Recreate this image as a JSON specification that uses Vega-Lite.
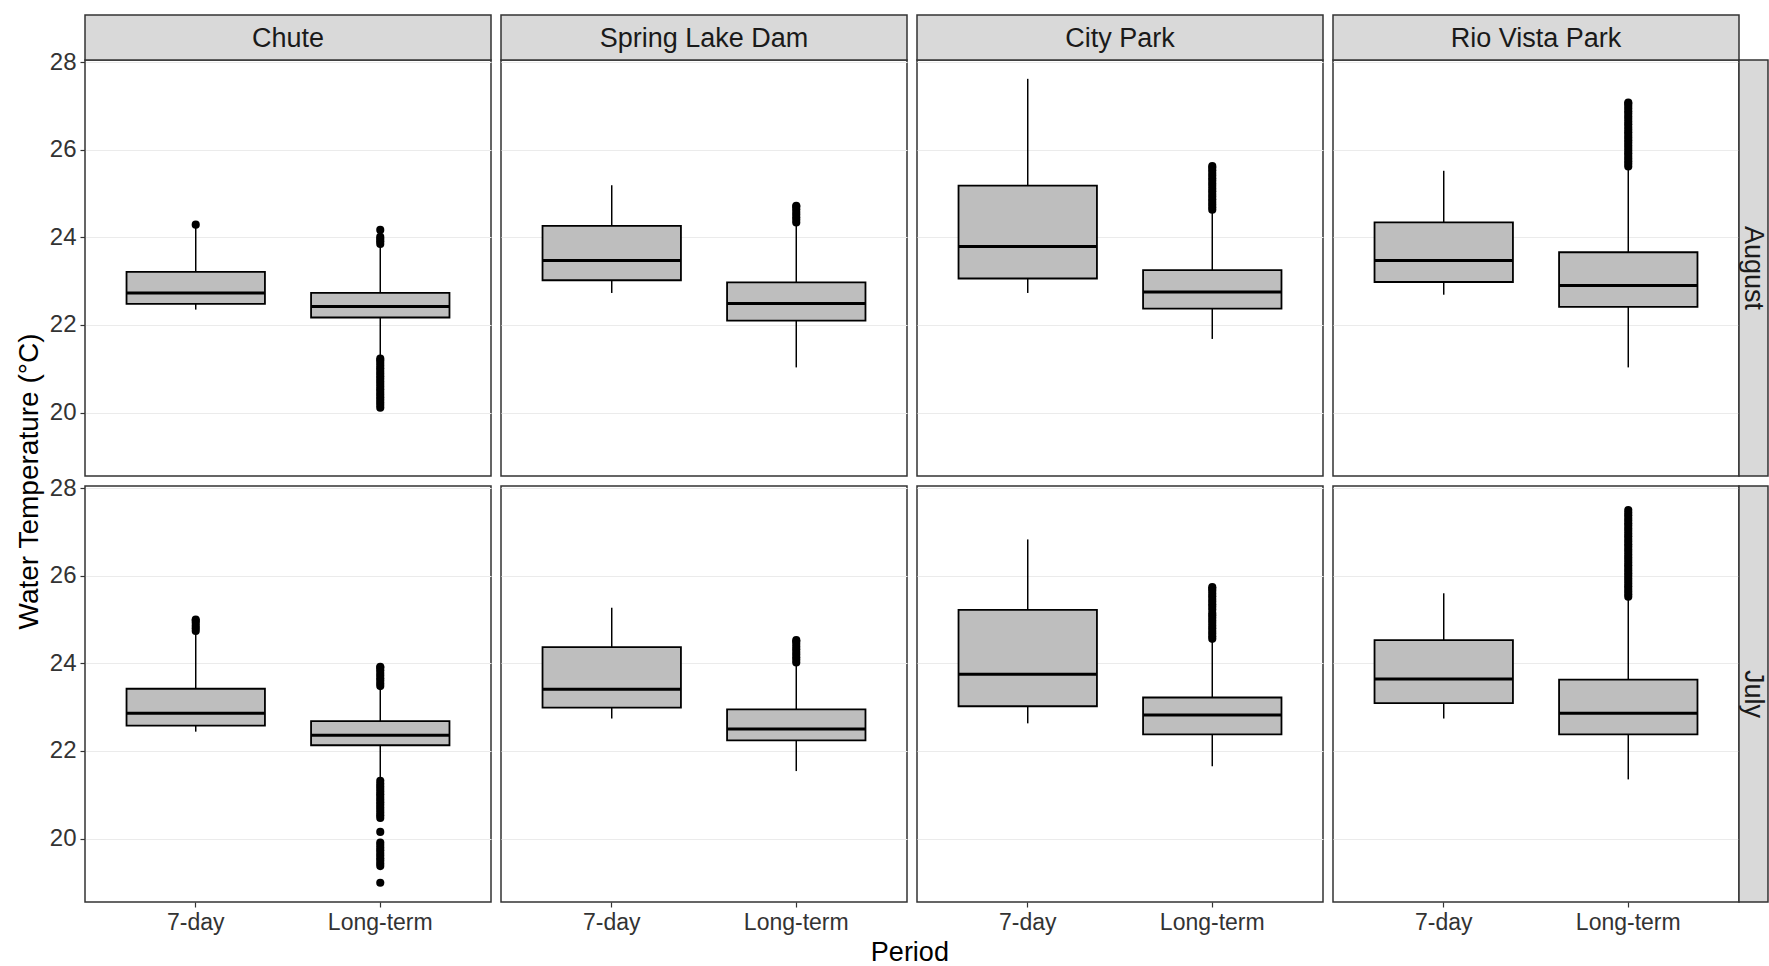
{
  "$schema": "https://vega.github.io/schema/vega-lite/v6.json",
  "padding": {"left": 14, "top": 13, "right": 0, "bottom": 2},
  "background": "white",
  "config": {
    "font": "Liberation Sans",
    "view": {"stroke": "#333333", "strokeWidth": 1.5},
    "axis": {"domain": false, "tickColor": "#333333", "tickSize": 5, "tickWidth": 1.2, "labelColor": "#333333", "labelFont": "Liberation Sans", "gridColor": "#EBEBEB", "gridWidth": 1.2}
  },
  "title": {"text": "Period", "orient": "bottom", "fontSize": 27, "fontWeight": "normal", "color": "#000000", "font": "Liberation Sans", "offset": 5, "anchor": "middle", "dx": 18},
  "datasets": {
    "d": [
      {"site": "Chute", "month": "August", "period": "7-day", "lower": 22.35, "q1": 22.48, "median": 22.73, "q3": 23.21, "upper": 24.22},
      {"site": "Chute", "month": "August", "period": "Long-term", "lower": 21.28, "q1": 22.17, "median": 22.42, "q3": 22.73, "upper": 23.85},
      {"site": "Spring Lake Dam", "month": "August", "period": "7-day", "lower": 22.73, "q1": 23.02, "median": 23.47, "q3": 24.26, "upper": 25.19},
      {"site": "Spring Lake Dam", "month": "August", "period": "Long-term", "lower": 21.03, "q1": 22.10, "median": 22.49, "q3": 22.97, "upper": 24.34},
      {"site": "City Park", "month": "August", "period": "7-day", "lower": 22.73, "q1": 23.06, "median": 23.79, "q3": 25.18, "upper": 27.62},
      {"site": "City Park", "month": "August", "period": "Long-term", "lower": 21.68, "q1": 22.37, "median": 22.75, "q3": 23.25, "upper": 24.63},
      {"site": "Rio Vista Park", "month": "August", "period": "7-day", "lower": 22.69, "q1": 22.98, "median": 23.47, "q3": 24.34, "upper": 25.52},
      {"site": "Rio Vista Park", "month": "August", "period": "Long-term", "lower": 21.03, "q1": 22.41, "median": 22.90, "q3": 23.66, "upper": 25.62},
      {"site": "Chute", "month": "July", "period": "7-day", "lower": 22.44, "q1": 22.58, "median": 22.86, "q3": 23.42, "upper": 24.74},
      {"site": "Chute", "month": "July", "period": "Long-term", "lower": 21.32, "q1": 22.13, "median": 22.36, "q3": 22.68, "upper": 23.48},
      {"site": "Spring Lake Dam", "month": "July", "period": "7-day", "lower": 22.74, "q1": 22.99, "median": 23.41, "q3": 24.37, "upper": 25.27},
      {"site": "Spring Lake Dam", "month": "July", "period": "Long-term", "lower": 21.54, "q1": 22.24, "median": 22.50, "q3": 22.95, "upper": 24.02},
      {"site": "City Park", "month": "July", "period": "7-day", "lower": 22.63, "q1": 23.02, "median": 23.75, "q3": 25.22, "upper": 26.83},
      {"site": "City Park", "month": "July", "period": "Long-term", "lower": 21.65, "q1": 22.38, "median": 22.82, "q3": 23.22, "upper": 24.56},
      {"site": "Rio Vista Park", "month": "July", "period": "7-day", "lower": 22.74, "q1": 23.09, "median": 23.64, "q3": 24.53, "upper": 25.60},
      {"site": "Rio Vista Park", "month": "July", "period": "Long-term", "lower": 21.35, "q1": 22.38, "median": 22.86, "q3": 23.63, "upper": 25.52},
      {"site": "Chute", "month": "August", "period": "7-day", "temp": 24.29},
      {"site": "Chute", "month": "August", "period": "Long-term", "temp": 23.85},
      {"site": "Chute", "month": "August", "period": "Long-term", "temp": 23.91},
      {"site": "Chute", "month": "August", "period": "Long-term", "temp": 23.96},
      {"site": "Chute", "month": "August", "period": "Long-term", "temp": 24.01},
      {"site": "Chute", "month": "August", "period": "Long-term", "temp": 24.17},
      {"site": "Chute", "month": "August", "period": "Long-term", "temp": 20.11},
      {"site": "Chute", "month": "August", "period": "Long-term", "temp": 20.17},
      {"site": "Chute", "month": "August", "period": "Long-term", "temp": 20.23},
      {"site": "Chute", "month": "August", "period": "Long-term", "temp": 20.29},
      {"site": "Chute", "month": "August", "period": "Long-term", "temp": 20.35},
      {"site": "Chute", "month": "August", "period": "Long-term", "temp": 20.41},
      {"site": "Chute", "month": "August", "period": "Long-term", "temp": 20.47},
      {"site": "Chute", "month": "August", "period": "Long-term", "temp": 20.53},
      {"site": "Chute", "month": "August", "period": "Long-term", "temp": 20.59},
      {"site": "Chute", "month": "August", "period": "Long-term", "temp": 20.65},
      {"site": "Chute", "month": "August", "period": "Long-term", "temp": 20.71},
      {"site": "Chute", "month": "August", "period": "Long-term", "temp": 20.77},
      {"site": "Chute", "month": "August", "period": "Long-term", "temp": 20.83},
      {"site": "Chute", "month": "August", "period": "Long-term", "temp": 20.89},
      {"site": "Chute", "month": "August", "period": "Long-term", "temp": 20.95},
      {"site": "Chute", "month": "August", "period": "Long-term", "temp": 21.01},
      {"site": "Chute", "month": "August", "period": "Long-term", "temp": 21.07},
      {"site": "Chute", "month": "August", "period": "Long-term", "temp": 21.13},
      {"site": "Chute", "month": "August", "period": "Long-term", "temp": 21.19},
      {"site": "Chute", "month": "August", "period": "Long-term", "temp": 21.23},
      {"site": "Spring Lake Dam", "month": "August", "period": "Long-term", "temp": 24.34},
      {"site": "Spring Lake Dam", "month": "August", "period": "Long-term", "temp": 24.40},
      {"site": "Spring Lake Dam", "month": "August", "period": "Long-term", "temp": 24.46},
      {"site": "Spring Lake Dam", "month": "August", "period": "Long-term", "temp": 24.52},
      {"site": "Spring Lake Dam", "month": "August", "period": "Long-term", "temp": 24.58},
      {"site": "Spring Lake Dam", "month": "August", "period": "Long-term", "temp": 24.64},
      {"site": "Spring Lake Dam", "month": "August", "period": "Long-term", "temp": 24.70},
      {"site": "Spring Lake Dam", "month": "August", "period": "Long-term", "temp": 24.72},
      {"site": "City Park", "month": "August", "period": "Long-term", "temp": 24.63},
      {"site": "City Park", "month": "August", "period": "Long-term", "temp": 24.69},
      {"site": "City Park", "month": "August", "period": "Long-term", "temp": 24.75},
      {"site": "City Park", "month": "August", "period": "Long-term", "temp": 24.81},
      {"site": "City Park", "month": "August", "period": "Long-term", "temp": 24.87},
      {"site": "City Park", "month": "August", "period": "Long-term", "temp": 24.93},
      {"site": "City Park", "month": "August", "period": "Long-term", "temp": 24.99},
      {"site": "City Park", "month": "August", "period": "Long-term", "temp": 25.05},
      {"site": "City Park", "month": "August", "period": "Long-term", "temp": 25.11},
      {"site": "City Park", "month": "August", "period": "Long-term", "temp": 25.17},
      {"site": "City Park", "month": "August", "period": "Long-term", "temp": 25.23},
      {"site": "City Park", "month": "August", "period": "Long-term", "temp": 25.29},
      {"site": "City Park", "month": "August", "period": "Long-term", "temp": 25.35},
      {"site": "City Park", "month": "August", "period": "Long-term", "temp": 25.41},
      {"site": "City Park", "month": "August", "period": "Long-term", "temp": 25.47},
      {"site": "City Park", "month": "August", "period": "Long-term", "temp": 25.53},
      {"site": "City Park", "month": "August", "period": "Long-term", "temp": 25.59},
      {"site": "City Park", "month": "August", "period": "Long-term", "temp": 25.63},
      {"site": "Rio Vista Park", "month": "August", "period": "Long-term", "temp": 25.62},
      {"site": "Rio Vista Park", "month": "August", "period": "Long-term", "temp": 25.68},
      {"site": "Rio Vista Park", "month": "August", "period": "Long-term", "temp": 25.74},
      {"site": "Rio Vista Park", "month": "August", "period": "Long-term", "temp": 25.80},
      {"site": "Rio Vista Park", "month": "August", "period": "Long-term", "temp": 25.86},
      {"site": "Rio Vista Park", "month": "August", "period": "Long-term", "temp": 25.92},
      {"site": "Rio Vista Park", "month": "August", "period": "Long-term", "temp": 25.98},
      {"site": "Rio Vista Park", "month": "August", "period": "Long-term", "temp": 26.04},
      {"site": "Rio Vista Park", "month": "August", "period": "Long-term", "temp": 26.10},
      {"site": "Rio Vista Park", "month": "August", "period": "Long-term", "temp": 26.16},
      {"site": "Rio Vista Park", "month": "August", "period": "Long-term", "temp": 26.22},
      {"site": "Rio Vista Park", "month": "August", "period": "Long-term", "temp": 26.28},
      {"site": "Rio Vista Park", "month": "August", "period": "Long-term", "temp": 26.34},
      {"site": "Rio Vista Park", "month": "August", "period": "Long-term", "temp": 26.40},
      {"site": "Rio Vista Park", "month": "August", "period": "Long-term", "temp": 26.46},
      {"site": "Rio Vista Park", "month": "August", "period": "Long-term", "temp": 26.52},
      {"site": "Rio Vista Park", "month": "August", "period": "Long-term", "temp": 26.58},
      {"site": "Rio Vista Park", "month": "August", "period": "Long-term", "temp": 26.64},
      {"site": "Rio Vista Park", "month": "August", "period": "Long-term", "temp": 26.70},
      {"site": "Rio Vista Park", "month": "August", "period": "Long-term", "temp": 26.76},
      {"site": "Rio Vista Park", "month": "August", "period": "Long-term", "temp": 26.82},
      {"site": "Rio Vista Park", "month": "August", "period": "Long-term", "temp": 26.88},
      {"site": "Rio Vista Park", "month": "August", "period": "Long-term", "temp": 26.94},
      {"site": "Rio Vista Park", "month": "August", "period": "Long-term", "temp": 27.00},
      {"site": "Rio Vista Park", "month": "August", "period": "Long-term", "temp": 27.05},
      {"site": "Rio Vista Park", "month": "August", "period": "Long-term", "temp": 27.08},
      {"site": "Chute", "month": "July", "period": "7-day", "temp": 24.74},
      {"site": "Chute", "month": "July", "period": "7-day", "temp": 24.80},
      {"site": "Chute", "month": "July", "period": "7-day", "temp": 24.86},
      {"site": "Chute", "month": "July", "period": "7-day", "temp": 24.92},
      {"site": "Chute", "month": "July", "period": "7-day", "temp": 24.97},
      {"site": "Chute", "month": "July", "period": "7-day", "temp": 25.00},
      {"site": "Chute", "month": "July", "period": "Long-term", "temp": 23.48},
      {"site": "Chute", "month": "July", "period": "Long-term", "temp": 23.54},
      {"site": "Chute", "month": "July", "period": "Long-term", "temp": 23.60},
      {"site": "Chute", "month": "July", "period": "Long-term", "temp": 23.66},
      {"site": "Chute", "month": "July", "period": "Long-term", "temp": 23.72},
      {"site": "Chute", "month": "July", "period": "Long-term", "temp": 23.78},
      {"site": "Chute", "month": "July", "period": "Long-term", "temp": 23.84},
      {"site": "Chute", "month": "July", "period": "Long-term", "temp": 23.90},
      {"site": "Chute", "month": "July", "period": "Long-term", "temp": 23.92},
      {"site": "Chute", "month": "July", "period": "Long-term", "temp": 20.47},
      {"site": "Chute", "month": "July", "period": "Long-term", "temp": 20.53},
      {"site": "Chute", "month": "July", "period": "Long-term", "temp": 20.59},
      {"site": "Chute", "month": "July", "period": "Long-term", "temp": 20.65},
      {"site": "Chute", "month": "July", "period": "Long-term", "temp": 20.71},
      {"site": "Chute", "month": "July", "period": "Long-term", "temp": 20.77},
      {"site": "Chute", "month": "July", "period": "Long-term", "temp": 20.83},
      {"site": "Chute", "month": "July", "period": "Long-term", "temp": 20.89},
      {"site": "Chute", "month": "July", "period": "Long-term", "temp": 20.95},
      {"site": "Chute", "month": "July", "period": "Long-term", "temp": 21.01},
      {"site": "Chute", "month": "July", "period": "Long-term", "temp": 21.07},
      {"site": "Chute", "month": "July", "period": "Long-term", "temp": 21.13},
      {"site": "Chute", "month": "July", "period": "Long-term", "temp": 21.19},
      {"site": "Chute", "month": "July", "period": "Long-term", "temp": 21.25},
      {"site": "Chute", "month": "July", "period": "Long-term", "temp": 21.32},
      {"site": "Chute", "month": "July", "period": "Long-term", "temp": 20.15},
      {"site": "Chute", "month": "July", "period": "Long-term", "temp": 19.37},
      {"site": "Chute", "month": "July", "period": "Long-term", "temp": 19.43},
      {"site": "Chute", "month": "July", "period": "Long-term", "temp": 19.49},
      {"site": "Chute", "month": "July", "period": "Long-term", "temp": 19.55},
      {"site": "Chute", "month": "July", "period": "Long-term", "temp": 19.61},
      {"site": "Chute", "month": "July", "period": "Long-term", "temp": 19.67},
      {"site": "Chute", "month": "July", "period": "Long-term", "temp": 19.73},
      {"site": "Chute", "month": "July", "period": "Long-term", "temp": 19.79},
      {"site": "Chute", "month": "July", "period": "Long-term", "temp": 19.85},
      {"site": "Chute", "month": "July", "period": "Long-term", "temp": 19.91},
      {"site": "Chute", "month": "July", "period": "Long-term", "temp": 18.99},
      {"site": "Spring Lake Dam", "month": "July", "period": "Long-term", "temp": 24.02},
      {"site": "Spring Lake Dam", "month": "July", "period": "Long-term", "temp": 24.08},
      {"site": "Spring Lake Dam", "month": "July", "period": "Long-term", "temp": 24.14},
      {"site": "Spring Lake Dam", "month": "July", "period": "Long-term", "temp": 24.20},
      {"site": "Spring Lake Dam", "month": "July", "period": "Long-term", "temp": 24.26},
      {"site": "Spring Lake Dam", "month": "July", "period": "Long-term", "temp": 24.32},
      {"site": "Spring Lake Dam", "month": "July", "period": "Long-term", "temp": 24.38},
      {"site": "Spring Lake Dam", "month": "July", "period": "Long-term", "temp": 24.44},
      {"site": "Spring Lake Dam", "month": "July", "period": "Long-term", "temp": 24.50},
      {"site": "Spring Lake Dam", "month": "July", "period": "Long-term", "temp": 24.53},
      {"site": "City Park", "month": "July", "period": "Long-term", "temp": 24.56},
      {"site": "City Park", "month": "July", "period": "Long-term", "temp": 24.62},
      {"site": "City Park", "month": "July", "period": "Long-term", "temp": 24.68},
      {"site": "City Park", "month": "July", "period": "Long-term", "temp": 24.74},
      {"site": "City Park", "month": "July", "period": "Long-term", "temp": 24.80},
      {"site": "City Park", "month": "July", "period": "Long-term", "temp": 24.86},
      {"site": "City Park", "month": "July", "period": "Long-term", "temp": 24.92},
      {"site": "City Park", "month": "July", "period": "Long-term", "temp": 24.98},
      {"site": "City Park", "month": "July", "period": "Long-term", "temp": 25.04},
      {"site": "City Park", "month": "July", "period": "Long-term", "temp": 25.10},
      {"site": "City Park", "month": "July", "period": "Long-term", "temp": 25.15},
      {"site": "City Park", "month": "July", "period": "Long-term", "temp": 25.23},
      {"site": "City Park", "month": "July", "period": "Long-term", "temp": 25.29},
      {"site": "City Park", "month": "July", "period": "Long-term", "temp": 25.35},
      {"site": "City Park", "month": "July", "period": "Long-term", "temp": 25.41},
      {"site": "City Park", "month": "July", "period": "Long-term", "temp": 25.47},
      {"site": "City Park", "month": "July", "period": "Long-term", "temp": 25.53},
      {"site": "City Park", "month": "July", "period": "Long-term", "temp": 25.59},
      {"site": "City Park", "month": "July", "period": "Long-term", "temp": 25.65},
      {"site": "City Park", "month": "July", "period": "Long-term", "temp": 25.70},
      {"site": "City Park", "month": "July", "period": "Long-term", "temp": 25.74},
      {"site": "Rio Vista Park", "month": "July", "period": "Long-term", "temp": 25.52},
      {"site": "Rio Vista Park", "month": "July", "period": "Long-term", "temp": 25.58},
      {"site": "Rio Vista Park", "month": "July", "period": "Long-term", "temp": 25.64},
      {"site": "Rio Vista Park", "month": "July", "period": "Long-term", "temp": 25.70},
      {"site": "Rio Vista Park", "month": "July", "period": "Long-term", "temp": 25.76},
      {"site": "Rio Vista Park", "month": "July", "period": "Long-term", "temp": 25.82},
      {"site": "Rio Vista Park", "month": "July", "period": "Long-term", "temp": 25.88},
      {"site": "Rio Vista Park", "month": "July", "period": "Long-term", "temp": 25.94},
      {"site": "Rio Vista Park", "month": "July", "period": "Long-term", "temp": 26.00},
      {"site": "Rio Vista Park", "month": "July", "period": "Long-term", "temp": 26.06},
      {"site": "Rio Vista Park", "month": "July", "period": "Long-term", "temp": 26.12},
      {"site": "Rio Vista Park", "month": "July", "period": "Long-term", "temp": 26.18},
      {"site": "Rio Vista Park", "month": "July", "period": "Long-term", "temp": 26.24},
      {"site": "Rio Vista Park", "month": "July", "period": "Long-term", "temp": 26.30},
      {"site": "Rio Vista Park", "month": "July", "period": "Long-term", "temp": 26.36},
      {"site": "Rio Vista Park", "month": "July", "period": "Long-term", "temp": 26.42},
      {"site": "Rio Vista Park", "month": "July", "period": "Long-term", "temp": 26.48},
      {"site": "Rio Vista Park", "month": "July", "period": "Long-term", "temp": 26.54},
      {"site": "Rio Vista Park", "month": "July", "period": "Long-term", "temp": 26.60},
      {"site": "Rio Vista Park", "month": "July", "period": "Long-term", "temp": 26.66},
      {"site": "Rio Vista Park", "month": "July", "period": "Long-term", "temp": 26.72},
      {"site": "Rio Vista Park", "month": "July", "period": "Long-term", "temp": 26.78},
      {"site": "Rio Vista Park", "month": "July", "period": "Long-term", "temp": 26.84},
      {"site": "Rio Vista Park", "month": "July", "period": "Long-term", "temp": 26.90},
      {"site": "Rio Vista Park", "month": "July", "period": "Long-term", "temp": 26.96},
      {"site": "Rio Vista Park", "month": "July", "period": "Long-term", "temp": 27.02},
      {"site": "Rio Vista Park", "month": "July", "period": "Long-term", "temp": 27.08},
      {"site": "Rio Vista Park", "month": "July", "period": "Long-term", "temp": 27.14},
      {"site": "Rio Vista Park", "month": "July", "period": "Long-term", "temp": 27.20},
      {"site": "Rio Vista Park", "month": "July", "period": "Long-term", "temp": 27.26},
      {"site": "Rio Vista Park", "month": "July", "period": "Long-term", "temp": 27.32},
      {"site": "Rio Vista Park", "month": "July", "period": "Long-term", "temp": 27.38},
      {"site": "Rio Vista Park", "month": "July", "period": "Long-term", "temp": 27.44},
      {"site": "Rio Vista Park", "month": "July", "period": "Long-term", "temp": 27.50}
    ]
  },
  "columns": 4,
  "spacing": {"row": 10, "column": 10},
  "bounds": "flush",
  "concat": [
    {
      "data": {"name": "d"}, "width": 406, "height": 416,
      "transform": [{"filter": "datum.site === 'Chute' && datum.month === 'August'"}],
      "layer": [
        {"transform": [{"filter": "isValid(datum.median) && datum.period === '7-day'"}], "mark": {"type": "rect", "fill": "#D9D9D9", "stroke": "#333333", "strokeWidth": 1.5}, "encoding": {"y": {"datum": 28.05, "type": "quantitative", "scale": {"domain": [18.55, 28.05], "nice": false, "zero": false}}, "y2": {"datum": 29.078}}},
        {"transform": [{"filter": "isValid(datum.median) && datum.period === '7-day'"}], "mark": {"type": "text", "fontSize": 27, "color": "#1A1A1A", "baseline": "middle", "align": "center", "dy": 2}, "encoding": {"y": {"datum": 28.564, "type": "quantitative", "scale": {"domain": [18.55, 28.05], "nice": false, "zero": false}}, "text": {"field": "site", "type": "nominal"}}},
        {"transform": [{"filter": "isValid(datum.median)"}], "mark": {"type": "rule", "color": "#000000", "strokeWidth": 1.5}, "encoding": {"x": {"field": "period", "type": "nominal", "scale": {"paddingInner": 0.25, "paddingOuter": 0.225}, "axis": {"title": null, "labels": false, "ticks": false, "grid": false}}, "y": {"field": "lower", "type": "quantitative", "scale": {"domain": [18.55, 28.05], "nice": false, "zero": false}, "axis": {"title": "Water Temperature (°C)", "titleFontSize": 28, "titleFontWeight": "normal", "titleColor": "#000000", "titleFont": "Liberation Sans", "titleAngle": -90, "titleAlign": "center", "titleBaseline": "middle", "titleX": -56, "titleY": 421, "values": [20, 22, 24, 26, 28], "grid": true, "labelFontSize": 24, "labelPadding": 4}}, "y2": {"field": "upper"}}},
        {"transform": [{"filter": "isValid(datum.median)"}], "mark": {"type": "bar", "fill": "#BEBEBE", "stroke": "#000000", "strokeWidth": 1.8}, "encoding": {"x": {"field": "period", "type": "nominal", "scale": {"paddingInner": 0.25, "paddingOuter": 0.225}}, "y": {"field": "q1", "type": "quantitative", "scale": {"domain": [18.55, 28.05], "nice": false, "zero": false}}, "y2": {"field": "q3"}}},
        {"transform": [{"filter": "isValid(datum.median)"}], "mark": {"type": "tick", "color": "#000000", "thickness": 3, "size": 138.4, "opacity": 1}, "encoding": {"x": {"field": "period", "type": "nominal", "scale": {"paddingInner": 0.25, "paddingOuter": 0.225}}, "y": {"field": "median", "type": "quantitative", "scale": {"domain": [18.55, 28.05], "nice": false, "zero": false}}}},
        {"transform": [{"filter": "isValid(datum.temp)"}], "mark": {"type": "point", "filled": true, "color": "#000000", "opacity": 1, "size": 66}, "encoding": {"x": {"field": "period", "type": "nominal", "scale": {"paddingInner": 0.25, "paddingOuter": 0.225}}, "y": {"field": "temp", "type": "quantitative", "scale": {"domain": [18.55, 28.05], "nice": false, "zero": false}}}}
      ]
    },
    {
      "data": {"name": "d"}, "width": 406, "height": 416,
      "transform": [{"filter": "datum.site === 'Spring Lake Dam' && datum.month === 'August'"}],
      "layer": [
        {"transform": [{"filter": "isValid(datum.median) && datum.period === '7-day'"}], "mark": {"type": "rect", "fill": "#D9D9D9", "stroke": "#333333", "strokeWidth": 1.5}, "encoding": {"y": {"datum": 28.05, "type": "quantitative", "scale": {"domain": [18.55, 28.05], "nice": false, "zero": false}}, "y2": {"datum": 29.078}}},
        {"transform": [{"filter": "isValid(datum.median) && datum.period === '7-day'"}], "mark": {"type": "text", "fontSize": 27, "color": "#1A1A1A", "baseline": "middle", "align": "center", "dy": 2}, "encoding": {"y": {"datum": 28.564, "type": "quantitative", "scale": {"domain": [18.55, 28.05], "nice": false, "zero": false}}, "text": {"field": "site", "type": "nominal"}}},
        {"transform": [{"filter": "isValid(datum.median)"}], "mark": {"type": "rule", "color": "#000000", "strokeWidth": 1.5}, "encoding": {"x": {"field": "period", "type": "nominal", "scale": {"paddingInner": 0.25, "paddingOuter": 0.225}, "axis": {"title": null, "labels": false, "ticks": false, "grid": false}}, "y": {"field": "lower", "type": "quantitative", "scale": {"domain": [18.55, 28.05], "nice": false, "zero": false}, "axis": {"title": null, "values": [20, 22, 24, 26, 28], "grid": true, "labels": false, "ticks": false}}, "y2": {"field": "upper"}}},
        {"transform": [{"filter": "isValid(datum.median)"}], "mark": {"type": "bar", "fill": "#BEBEBE", "stroke": "#000000", "strokeWidth": 1.8}, "encoding": {"x": {"field": "period", "type": "nominal", "scale": {"paddingInner": 0.25, "paddingOuter": 0.225}}, "y": {"field": "q1", "type": "quantitative", "scale": {"domain": [18.55, 28.05], "nice": false, "zero": false}}, "y2": {"field": "q3"}}},
        {"transform": [{"filter": "isValid(datum.median)"}], "mark": {"type": "tick", "color": "#000000", "thickness": 3, "size": 138.4, "opacity": 1}, "encoding": {"x": {"field": "period", "type": "nominal", "scale": {"paddingInner": 0.25, "paddingOuter": 0.225}}, "y": {"field": "median", "type": "quantitative", "scale": {"domain": [18.55, 28.05], "nice": false, "zero": false}}}},
        {"transform": [{"filter": "isValid(datum.temp)"}], "mark": {"type": "point", "filled": true, "color": "#000000", "opacity": 1, "size": 66}, "encoding": {"x": {"field": "period", "type": "nominal", "scale": {"paddingInner": 0.25, "paddingOuter": 0.225}}, "y": {"field": "temp", "type": "quantitative", "scale": {"domain": [18.55, 28.05], "nice": false, "zero": false}}}}
      ]
    },
    {
      "data": {"name": "d"}, "width": 406, "height": 416,
      "transform": [{"filter": "datum.site === 'City Park' && datum.month === 'August'"}],
      "layer": [
        {"transform": [{"filter": "isValid(datum.median) && datum.period === '7-day'"}], "mark": {"type": "rect", "fill": "#D9D9D9", "stroke": "#333333", "strokeWidth": 1.5}, "encoding": {"y": {"datum": 28.05, "type": "quantitative", "scale": {"domain": [18.55, 28.05], "nice": false, "zero": false}}, "y2": {"datum": 29.078}}},
        {"transform": [{"filter": "isValid(datum.median) && datum.period === '7-day'"}], "mark": {"type": "text", "fontSize": 27, "color": "#1A1A1A", "baseline": "middle", "align": "center", "dy": 2}, "encoding": {"y": {"datum": 28.564, "type": "quantitative", "scale": {"domain": [18.55, 28.05], "nice": false, "zero": false}}, "text": {"field": "site", "type": "nominal"}}},
        {"transform": [{"filter": "isValid(datum.median)"}], "mark": {"type": "rule", "color": "#000000", "strokeWidth": 1.5}, "encoding": {"x": {"field": "period", "type": "nominal", "scale": {"paddingInner": 0.25, "paddingOuter": 0.225}, "axis": {"title": null, "labels": false, "ticks": false, "grid": false}}, "y": {"field": "lower", "type": "quantitative", "scale": {"domain": [18.55, 28.05], "nice": false, "zero": false}, "axis": {"title": null, "values": [20, 22, 24, 26, 28], "grid": true, "labels": false, "ticks": false}}, "y2": {"field": "upper"}}},
        {"transform": [{"filter": "isValid(datum.median)"}], "mark": {"type": "bar", "fill": "#BEBEBE", "stroke": "#000000", "strokeWidth": 1.8}, "encoding": {"x": {"field": "period", "type": "nominal", "scale": {"paddingInner": 0.25, "paddingOuter": 0.225}}, "y": {"field": "q1", "type": "quantitative", "scale": {"domain": [18.55, 28.05], "nice": false, "zero": false}}, "y2": {"field": "q3"}}},
        {"transform": [{"filter": "isValid(datum.median)"}], "mark": {"type": "tick", "color": "#000000", "thickness": 3, "size": 138.4, "opacity": 1}, "encoding": {"x": {"field": "period", "type": "nominal", "scale": {"paddingInner": 0.25, "paddingOuter": 0.225}}, "y": {"field": "median", "type": "quantitative", "scale": {"domain": [18.55, 28.05], "nice": false, "zero": false}}}},
        {"transform": [{"filter": "isValid(datum.temp)"}], "mark": {"type": "point", "filled": true, "color": "#000000", "opacity": 1, "size": 66}, "encoding": {"x": {"field": "period", "type": "nominal", "scale": {"paddingInner": 0.25, "paddingOuter": 0.225}}, "y": {"field": "temp", "type": "quantitative", "scale": {"domain": [18.55, 28.05], "nice": false, "zero": false}}}}
      ]
    },
    {
      "data": {"name": "d"}, "width": 406, "height": 416,
      "transform": [{"filter": "datum.site === 'Rio Vista Park' && datum.month === 'August'"}],
      "layer": [
        {
          "layer": [
            {"transform": [{"filter": "isValid(datum.median) && datum.period === '7-day'"}], "mark": {"type": "rect", "fill": "#D9D9D9", "stroke": "#333333", "strokeWidth": 1.5}, "encoding": {"y": {"datum": 28.05, "type": "quantitative", "scale": {"domain": [18.55, 28.05], "nice": false, "zero": false}}, "y2": {"datum": 29.078}}},
            {"transform": [{"filter": "isValid(datum.median) && datum.period === '7-day'"}], "mark": {"type": "text", "fontSize": 27, "color": "#1A1A1A", "baseline": "middle", "align": "center", "dy": 2}, "encoding": {"y": {"datum": 28.564, "type": "quantitative", "scale": {"domain": [18.55, 28.05], "nice": false, "zero": false}}, "text": {"field": "site", "type": "nominal"}}},
            {"transform": [{"filter": "isValid(datum.median)"}], "mark": {"type": "rule", "color": "#000000", "strokeWidth": 1.5}, "encoding": {"x": {"field": "period", "type": "nominal", "scale": {"paddingInner": 0.25, "paddingOuter": 0.225}, "axis": {"title": null, "labels": false, "ticks": false, "grid": false}}, "y": {"field": "lower", "type": "quantitative", "scale": {"domain": [18.55, 28.05], "nice": false, "zero": false}, "axis": {"title": null, "values": [20, 22, 24, 26, 28], "grid": true, "labels": false, "ticks": false}}, "y2": {"field": "upper"}}},
            {"transform": [{"filter": "isValid(datum.median)"}], "mark": {"type": "bar", "fill": "#BEBEBE", "stroke": "#000000", "strokeWidth": 1.8}, "encoding": {"x": {"field": "period", "type": "nominal", "scale": {"paddingInner": 0.25, "paddingOuter": 0.225}}, "y": {"field": "q1", "type": "quantitative", "scale": {"domain": [18.55, 28.05], "nice": false, "zero": false}}, "y2": {"field": "q3"}}},
            {"transform": [{"filter": "isValid(datum.median)"}], "mark": {"type": "tick", "color": "#000000", "thickness": 3, "size": 138.4, "opacity": 1}, "encoding": {"x": {"field": "period", "type": "nominal", "scale": {"paddingInner": 0.25, "paddingOuter": 0.225}}, "y": {"field": "median", "type": "quantitative", "scale": {"domain": [18.55, 28.05], "nice": false, "zero": false}}}},
            {"transform": [{"filter": "isValid(datum.temp)"}], "mark": {"type": "point", "filled": true, "color": "#000000", "opacity": 1, "size": 66}, "encoding": {"x": {"field": "period", "type": "nominal", "scale": {"paddingInner": 0.25, "paddingOuter": 0.225}}, "y": {"field": "temp", "type": "quantitative", "scale": {"domain": [18.55, 28.05], "nice": false, "zero": false}}}}
          ]
        },
        {
          "transform": [{"filter": "isValid(datum.median) && datum.period === '7-day'"}],
          "layer": [
            {"mark": {"type": "rect", "fill": "#D9D9D9", "stroke": "#333333", "strokeWidth": 1.5}, "encoding": {"x": {"datum": 1, "type": "quantitative", "scale": {"domain": [0, 1], "nice": false, "zero": false}, "axis": null}, "x2": {"datum": 1.0714}}},
            {"mark": {"type": "text", "fontSize": 27, "color": "#1A1A1A", "angle": 90, "baseline": "middle", "align": "center"}, "encoding": {"x": {"datum": 1.0357, "type": "quantitative", "scale": {"domain": [0, 1], "nice": false, "zero": false}, "axis": null}, "text": {"field": "month", "type": "nominal"}}}
          ]
        }
      ],
      "resolve": {"scale": {"x": "independent"}}
    },
    {
      "data": {"name": "d"}, "width": 406, "height": 416,
      "transform": [{"filter": "datum.site === 'Chute' && datum.month === 'July'"}],
      "layer": [
        {"transform": [{"filter": "isValid(datum.median)"}], "mark": {"type": "rule", "color": "#000000", "strokeWidth": 1.5}, "encoding": {"x": {"field": "period", "type": "nominal", "scale": {"paddingInner": 0.25, "paddingOuter": 0.225}, "axis": {"title": null, "labelAngle": 0, "grid": false, "labelFontSize": 23, "labelPadding": 4}}, "y": {"field": "lower", "type": "quantitative", "scale": {"domain": [18.55, 28.05], "nice": false, "zero": false}, "axis": {"title": null, "values": [20, 22, 24, 26, 28], "grid": true, "labelFontSize": 24, "labelPadding": 4}}, "y2": {"field": "upper"}}},
        {"transform": [{"filter": "isValid(datum.median)"}], "mark": {"type": "bar", "fill": "#BEBEBE", "stroke": "#000000", "strokeWidth": 1.8}, "encoding": {"x": {"field": "period", "type": "nominal", "scale": {"paddingInner": 0.25, "paddingOuter": 0.225}}, "y": {"field": "q1", "type": "quantitative", "scale": {"domain": [18.55, 28.05], "nice": false, "zero": false}}, "y2": {"field": "q3"}}},
        {"transform": [{"filter": "isValid(datum.median)"}], "mark": {"type": "tick", "color": "#000000", "thickness": 3, "size": 138.4, "opacity": 1}, "encoding": {"x": {"field": "period", "type": "nominal", "scale": {"paddingInner": 0.25, "paddingOuter": 0.225}}, "y": {"field": "median", "type": "quantitative", "scale": {"domain": [18.55, 28.05], "nice": false, "zero": false}}}},
        {"transform": [{"filter": "isValid(datum.temp)"}], "mark": {"type": "point", "filled": true, "color": "#000000", "opacity": 1, "size": 66}, "encoding": {"x": {"field": "period", "type": "nominal", "scale": {"paddingInner": 0.25, "paddingOuter": 0.225}}, "y": {"field": "temp", "type": "quantitative", "scale": {"domain": [18.55, 28.05], "nice": false, "zero": false}}}}
      ]
    },
    {
      "data": {"name": "d"}, "width": 406, "height": 416,
      "transform": [{"filter": "datum.site === 'Spring Lake Dam' && datum.month === 'July'"}],
      "layer": [
        {"transform": [{"filter": "isValid(datum.median)"}], "mark": {"type": "rule", "color": "#000000", "strokeWidth": 1.5}, "encoding": {"x": {"field": "period", "type": "nominal", "scale": {"paddingInner": 0.25, "paddingOuter": 0.225}, "axis": {"title": null, "labelAngle": 0, "grid": false, "labelFontSize": 23, "labelPadding": 4}}, "y": {"field": "lower", "type": "quantitative", "scale": {"domain": [18.55, 28.05], "nice": false, "zero": false}, "axis": {"title": null, "values": [20, 22, 24, 26, 28], "grid": true, "labels": false, "ticks": false}}, "y2": {"field": "upper"}}},
        {"transform": [{"filter": "isValid(datum.median)"}], "mark": {"type": "bar", "fill": "#BEBEBE", "stroke": "#000000", "strokeWidth": 1.8}, "encoding": {"x": {"field": "period", "type": "nominal", "scale": {"paddingInner": 0.25, "paddingOuter": 0.225}}, "y": {"field": "q1", "type": "quantitative", "scale": {"domain": [18.55, 28.05], "nice": false, "zero": false}}, "y2": {"field": "q3"}}},
        {"transform": [{"filter": "isValid(datum.median)"}], "mark": {"type": "tick", "color": "#000000", "thickness": 3, "size": 138.4, "opacity": 1}, "encoding": {"x": {"field": "period", "type": "nominal", "scale": {"paddingInner": 0.25, "paddingOuter": 0.225}}, "y": {"field": "median", "type": "quantitative", "scale": {"domain": [18.55, 28.05], "nice": false, "zero": false}}}},
        {"transform": [{"filter": "isValid(datum.temp)"}], "mark": {"type": "point", "filled": true, "color": "#000000", "opacity": 1, "size": 66}, "encoding": {"x": {"field": "period", "type": "nominal", "scale": {"paddingInner": 0.25, "paddingOuter": 0.225}}, "y": {"field": "temp", "type": "quantitative", "scale": {"domain": [18.55, 28.05], "nice": false, "zero": false}}}}
      ]
    },
    {
      "data": {"name": "d"}, "width": 406, "height": 416,
      "transform": [{"filter": "datum.site === 'City Park' && datum.month === 'July'"}],
      "layer": [
        {"transform": [{"filter": "isValid(datum.median)"}], "mark": {"type": "rule", "color": "#000000", "strokeWidth": 1.5}, "encoding": {"x": {"field": "period", "type": "nominal", "scale": {"paddingInner": 0.25, "paddingOuter": 0.225}, "axis": {"title": null, "labelAngle": 0, "grid": false, "labelFontSize": 23, "labelPadding": 4}}, "y": {"field": "lower", "type": "quantitative", "scale": {"domain": [18.55, 28.05], "nice": false, "zero": false}, "axis": {"title": null, "values": [20, 22, 24, 26, 28], "grid": true, "labels": false, "ticks": false}}, "y2": {"field": "upper"}}},
        {"transform": [{"filter": "isValid(datum.median)"}], "mark": {"type": "bar", "fill": "#BEBEBE", "stroke": "#000000", "strokeWidth": 1.8}, "encoding": {"x": {"field": "period", "type": "nominal", "scale": {"paddingInner": 0.25, "paddingOuter": 0.225}}, "y": {"field": "q1", "type": "quantitative", "scale": {"domain": [18.55, 28.05], "nice": false, "zero": false}}, "y2": {"field": "q3"}}},
        {"transform": [{"filter": "isValid(datum.median)"}], "mark": {"type": "tick", "color": "#000000", "thickness": 3, "size": 138.4, "opacity": 1}, "encoding": {"x": {"field": "period", "type": "nominal", "scale": {"paddingInner": 0.25, "paddingOuter": 0.225}}, "y": {"field": "median", "type": "quantitative", "scale": {"domain": [18.55, 28.05], "nice": false, "zero": false}}}},
        {"transform": [{"filter": "isValid(datum.temp)"}], "mark": {"type": "point", "filled": true, "color": "#000000", "opacity": 1, "size": 66}, "encoding": {"x": {"field": "period", "type": "nominal", "scale": {"paddingInner": 0.25, "paddingOuter": 0.225}}, "y": {"field": "temp", "type": "quantitative", "scale": {"domain": [18.55, 28.05], "nice": false, "zero": false}}}}
      ]
    },
    {
      "data": {"name": "d"}, "width": 406, "height": 416,
      "transform": [{"filter": "datum.site === 'Rio Vista Park' && datum.month === 'July'"}],
      "layer": [
        {
          "layer": [
            {"transform": [{"filter": "isValid(datum.median)"}], "mark": {"type": "rule", "color": "#000000", "strokeWidth": 1.5}, "encoding": {"x": {"field": "period", "type": "nominal", "scale": {"paddingInner": 0.25, "paddingOuter": 0.225}, "axis": {"title": null, "labelAngle": 0, "grid": false, "labelFontSize": 23, "labelPadding": 4}}, "y": {"field": "lower", "type": "quantitative", "scale": {"domain": [18.55, 28.05], "nice": false, "zero": false}, "axis": {"title": null, "values": [20, 22, 24, 26, 28], "grid": true, "labels": false, "ticks": false}}, "y2": {"field": "upper"}}},
            {"transform": [{"filter": "isValid(datum.median)"}], "mark": {"type": "bar", "fill": "#BEBEBE", "stroke": "#000000", "strokeWidth": 1.8}, "encoding": {"x": {"field": "period", "type": "nominal", "scale": {"paddingInner": 0.25, "paddingOuter": 0.225}}, "y": {"field": "q1", "type": "quantitative", "scale": {"domain": [18.55, 28.05], "nice": false, "zero": false}}, "y2": {"field": "q3"}}},
            {"transform": [{"filter": "isValid(datum.median)"}], "mark": {"type": "tick", "color": "#000000", "thickness": 3, "size": 138.4, "opacity": 1}, "encoding": {"x": {"field": "period", "type": "nominal", "scale": {"paddingInner": 0.25, "paddingOuter": 0.225}}, "y": {"field": "median", "type": "quantitative", "scale": {"domain": [18.55, 28.05], "nice": false, "zero": false}}}},
            {"transform": [{"filter": "isValid(datum.temp)"}], "mark": {"type": "point", "filled": true, "color": "#000000", "opacity": 1, "size": 66}, "encoding": {"x": {"field": "period", "type": "nominal", "scale": {"paddingInner": 0.25, "paddingOuter": 0.225}}, "y": {"field": "temp", "type": "quantitative", "scale": {"domain": [18.55, 28.05], "nice": false, "zero": false}}}}
          ]
        },
        {
          "transform": [{"filter": "isValid(datum.median) && datum.period === '7-day'"}],
          "layer": [
            {"mark": {"type": "rect", "fill": "#D9D9D9", "stroke": "#333333", "strokeWidth": 1.5}, "encoding": {"x": {"datum": 1, "type": "quantitative", "scale": {"domain": [0, 1], "nice": false, "zero": false}, "axis": null}, "x2": {"datum": 1.0714}}},
            {"mark": {"type": "text", "fontSize": 27, "color": "#1A1A1A", "angle": 90, "baseline": "middle", "align": "center"}, "encoding": {"x": {"datum": 1.0357, "type": "quantitative", "scale": {"domain": [0, 1], "nice": false, "zero": false}, "axis": null}, "text": {"field": "month", "type": "nominal"}}}
          ]
        }
      ],
      "resolve": {"scale": {"x": "independent"}}
    }
  ]
}
